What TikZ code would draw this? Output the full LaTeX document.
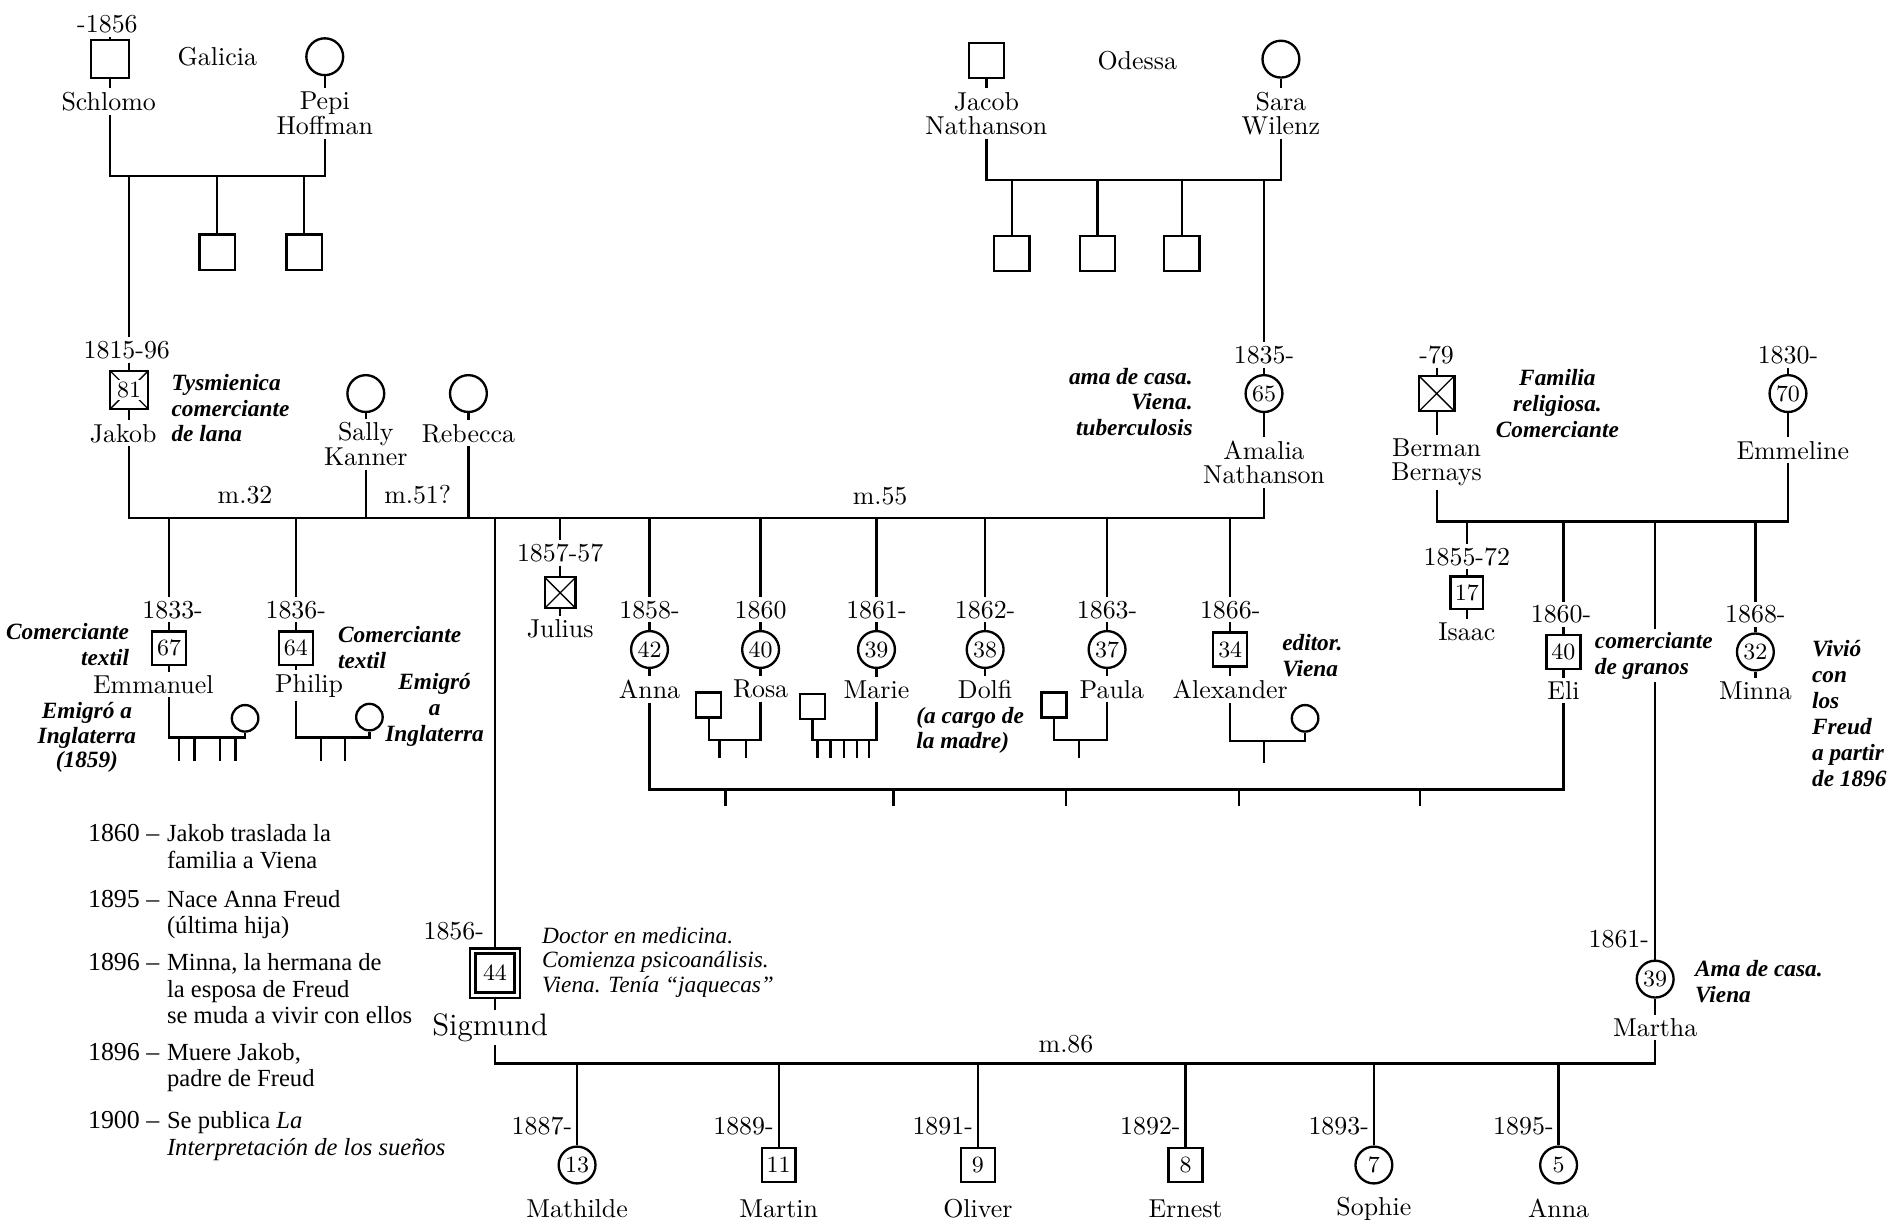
\documentclass[tikz,border=0pt]{standalone}
\usepackage{fontspec}
\usepackage{tikz}
\newfontfamily\notefont[Ligatures=TeX]{Liberation Serif}

\begin{document}
\begin{tikzpicture}[x=0.01639cm, y=-0.01639cm, line width=0.9pt,
  male/.style={draw, rectangle, minimum size=0.46cm, inner sep=0pt, font=\small},
  female/.style={draw, circle, minimum size=0.5cm, inner sep=0pt, font=\small},
  kid m/.style={draw, rectangle, minimum size=0.34cm, inner sep=0pt},
  kid f/.style={draw, circle, minimum size=0.36cm, inner sep=0pt},
  deceased/.style={path picture={\draw[line width=0.5pt]
      (path picture bounding box.north west) -- (path picture bounding box.south east)
      (path picture bounding box.south west) -- (path picture bounding box.north east);}},
  who/.style={align=center, inner sep=1pt, font=\fontsize{10}{9.5}\selectfont},
  year/.style={inner sep=1pt},
  note/.style={inner sep=1pt, font=\notefont\fontsize{9}{10}\selectfont\bfseries\itshape},
]
\useasboundingbox (0,0) rectangle (1568,1015);

% Draw the grandparents: Galicia
\node[year] (schlomoD) at (89,20) {-1856};
\node[male, minimum size=0.52cm] (schlomo) at (91,49) {};
\node[who] (schlomoN) at (90,84) {Schlomo};
\node (galicia) at (180,47) {Galicia};
\node[female] (pepi) at (269,47) {};
\node[who] (pepiN) at (269,94) {Pepi\\Hoffman};
\node[male, minimum size=0.48cm] (pepiS1) at (180,209) {};
\node[male, minimum size=0.48cm] (pepiS2) at (252,209) {};
\coordinate (galline) at (0,146);
\draw (schlomoD.south -| schlomo) -- (schlomo.north);
\draw (schlomo.south) -- (schlomo.south |- schlomoN.north);
\draw (pepi.south) -- (pepi.south |- pepiN.north);
\draw (schlomoN.south -| schlomo) -- (schlomo |- galline) -- (pepi |- galline) -- (pepi |- pepiN.south);
\draw (pepiS1 |- galline) -- (pepiS1.north);
\draw (pepiS2 |- galline) -- (pepiS2.north);

% Draw the grandparents: Odessa
\node[male, minimum size=0.48cm] (jacob) at (817,50) {};
\node[who] (jacobN) at (817,94) {Jacob\\Nathanson};
\node (odessa) at (942,50) {Odessa};
\node[female] (sara) at (1061,49) {};
\node[who] (saraN) at (1061,94) {Sara\\Wilenz};
\node[male, minimum size=0.48cm] (saraS1) at (838,210) {};
\node[male, minimum size=0.48cm] (saraS2) at (909,210) {};
\node[male, minimum size=0.48cm] (saraS3) at (979,210) {};
\coordinate (odline) at (0,149);
\draw (jacob.south) -- (jacob.south |- jacobN.north);
\draw (sara.south) -- (sara.south |- saraN.north);
\draw (jacobN.south) -- (jacob |- odline) -- (sara |- odline) -- (saraN.south);
\draw (saraS1 |- odline) -- (saraS1.north);
\draw (saraS2 |- odline) -- (saraS2.north);
\draw (saraS3 |- odline) -- (saraS3.north);

% Draw the parents
\node[year] (jakobD) at (105,290) {1815-96};
\node[male, deceased, minimum size=0.52cm,
  label={[fill=white, inner sep=0.6pt, font=\small]center:81}] (jakob) at (107,323) {};
\node[who] (jakobN) at (102,359) {Jakob};
\node[note, anchor=west, align=left] (jakobT) at (139,338) {Tysmienica\\comerciante\\de lana};
\node[female] (sally) at (303,326) {};
\node[who] (sallyN) at (303,368) {Sally\\Kanner};
\node[female] (rebecca) at (388,326) {};
\node[who] (rebeccaN) at (388,359) {Rebecca};
\node[year] (amaliaD) at (1047,294) {1835-};
\node[female] (amalia) at (1047,326) {65};
\node[who] (amaliaN) at (1047,383) {Amalia\\Nathanson};
\node[note, anchor=east, align=right] (amaliaT) at (991,333) {ama de casa.\\Viena.\\tuberculosis};
\coordinate (mline) at (0,429);
\draw (jakob |- galline) -- (jakob |- jakobD.north);
\draw (jakobD.south -| jakob) -- (jakob.north);
\draw (jakob.south) -- (jakob.south |- jakobN.north);
\draw (sally.south) -- (sally.south |- sallyN.north);
\draw (rebecca.south) -- (rebecca.south |- rebeccaN.north);
\draw (amalia |- odline) -- (amalia |- amaliaD.north);
\draw (amaliaD.south) -- (amalia.north);
\draw (amalia.south) -- (amalia.south |- amaliaN.north);
\draw (jakobN.south -| jakob) -- (jakob |- mline) -- (amalia |- mline) -- (amaliaN.south);
\draw (sallyN.south) -- (sally |- mline);
\draw (rebeccaN.south) -- (rebecca |- mline);
\node (m32) at (203,410) {m.32};
\node (m51) at (346,410) {m.51?};
\node (m55) at (729,411) {m.55};

% Bernays side
\node[year] (bermanD) at (1190,294) {-79};
\node[male, deceased, minimum size=0.48cm] (berman) at (1190,326) {};
\node[who] (bermanN) at (1190,383) {Berman\\Bernays};
\node[note, align=center] (bermanT) at (1290,334) {Familia\\religiosa.\\Comerciante};
\node[year] (emmelineD) at (1481,294) {1830-};
\node[female] (emmeline) at (1481,326) {70};
\node[who] (emmelineN) at (1485,373) {Emmeline};
\coordinate (bline) at (0,432);
\draw (bermanD.south) -- (berman.north);
\draw (berman.south) -- (berman.south |- bermanN.north);
\draw (emmelineD.south -| emmeline) -- (emmeline.north);
\draw (emmeline.south) -- (emmeline.south |- emmelineN.north);
\draw (bermanN.south) -- (berman |- bline) -- (emmeline |- bline) -- (emmeline |- emmelineN.south);

% Children of the first marriage
\node[year] (emmanuelD) at (143,505) {1833-};
\node[male] (emmanuel) at (140,537) {67};
\node[who] (emmanuelN) at (127,567) {Emmanuel};
\node[note, anchor=east, align=right] (emmanuelT) at (110,534) {Comerciante\\textil};
\node[note, align=center, font=\notefont\fontsize{9}{9.4}\selectfont\bfseries\itshape] (emmanuelE) at (72,611) {Emigró a\\Inglaterra\\(1859)};
\node[kid f] (emmanuelW) at (203,595) {};
\node[year] (philipD) at (245,505) {1836-};
\node[male] (philip) at (245,537) {64};
\node[who] (philipN) at (256,568) {Philip};
\node[note, anchor=west, align=left] (philipT) at (277,536) {Comerciante\\textil};
\node[note, align=center] (philipE) at (360,588) {Emigró\\a\\Inglaterra};
\node[kid f] (philipW) at (306,594) {};
\draw (emmanuel |- mline) -- (emmanuel |- emmanuelD.north);
\draw (emmanuelD.south -| emmanuel) -- (emmanuel.north);
\draw (emmanuel.south) -- (emmanuel.south |- emmanuelN.north);
\draw (philip |- mline) -- (philip |- philipD.north);
\draw (philipD.south -| philip) -- (philip.north);
\draw (philip.south) -- (philip.south |- philipN.north);
\coordinate (emfam) at (140,611);
\coordinate (phfam) at (245,611);
\draw (emmanuel |- emmanuelN.south) -- (emfam) -- (emfam -| emmanuelW) -- (emmanuelW.south);
\draw (philip |- philipN.south) -- (phfam) -- (phfam -| philipW) -- (philipW.south);
\draw (148,611) -- (148,630) (161,611) -- (161,630) (182,611) -- (182,630) (195,611) -- (195,630);
\draw (266,611) -- (266,630) (286,611) -- (286,630);

% Children of Jakob and Amalia
\node[year, anchor=east] (sigmundD) at (404,771) {1856-};
\node[male, double, double distance=1.1pt, line width=1.1pt, minimum size=0.6cm] (sigmund) at (410,806) {44};
\node[who, font=\large] (sigmundN) at (406,851) {Sigmund};
\node[inner sep=1pt, anchor=west, align=left, font=\notefont\fontsize{9}{9.4}\selectfont\itshape] (sigmundT) at (446,797)
  {Doctor en medicina.\\Comienza psicoanálisis.\\Viena. Tenía “jaquecas”};
\node[year] (juliusD) at (464,458) {1857-57};
\node[male, deceased, minimum size=0.42cm] (julius) at (464,491) {};
\node[who] (juliusN) at (464,521) {Julius};
\node[year] (annaD) at (538,505) {1858-};
\node[female] (anna) at (538,538) {42};
\node[who] (annaN) at (538,571) {Anna};
\node[year] (rosaD) at (630,505) {1860};
\node[female] (rosa) at (630,538) {40};
\node[who] (rosaN) at (630,571) {Rosa};
\node[kid m] (rosaH) at (587,584) {};
\node[year] (marieD) at (726,505) {1861-};
\node[female] (marie) at (726,538) {39};
\node[who] (marieN) at (726,571) {Marie};
\node[kid m] (marieH) at (673,585) {};
\node[year] (dolfiD) at (816,505) {1862-};
\node[female] (dolfi) at (816,538) {38};
\node[who] (dolfiN) at (816,571) {Dolfi};
\node[note, anchor=west, align=left] (dolfiT) at (756,605) {(a cargo de\\la madre)};
\node[year] (paulaD) at (917,505) {1863-};
\node[female] (paula) at (917,538) {37};
\node[who] (paulaN) at (921,571) {Paula};
\node[kid m] (paulaH) at (873,584) {};
\node[year] (alexanderD) at (1019,505) {1866-};
\node[male] (alexander) at (1019,538) {34};
\node[who] (alexanderN) at (1019,571) {Alexander};
\node[note, anchor=west, align=left] (alexanderT) at (1059,543) {editor.\\Viena};
\node[kid f] (alexanderW) at (1081,595) {};
\draw (sigmund |- mline) -- (sigmund.north);
\draw (sigmund.south) -- (sigmund.south |- sigmundN.north);
\draw (julius |- mline) -- (julius |- juliusD.north);
\draw (juliusD.south) -- (julius.north);
\draw (julius.south) -- (julius.south |- juliusN.north);
\draw (anna |- mline) -- (anna |- annaD.north);
\draw (annaD.south) -- (anna.north);
\draw (anna.south) -- (anna.south |- annaN.north);
\draw (rosa |- mline) -- (rosa |- rosaD.north);
\draw (rosaD.south) -- (rosa.north);
\draw (rosa.south) -- (rosa.south |- rosaN.north);
\draw (marie |- mline) -- (marie |- marieD.north);
\draw (marieD.south) -- (marie.north);
\draw (marie.south) -- (marie.south |- marieN.north);
\draw (dolfi |- mline) -- (dolfi |- dolfiD.north);
\draw (dolfiD.south) -- (dolfi.north);
\draw (dolfi.south) -- (dolfi.south |- dolfiN.north);
\draw (paula |- mline) -- (paula |- paulaD.north);
\draw (paulaD.south) -- (paula.north);
\draw (paula.south) -- (paula.south |- paulaN.north);
\draw (alexander |- mline) -- (alexander |- alexanderD.north);
\draw (alexanderD.south) -- (alexander.north);
\draw (alexander.south) -- (alexander.south |- alexanderN.north);
\coordinate (rofam) at (587,613);
\coordinate (mafam) at (673,613);
\coordinate (pafam) at (873,613);
\coordinate (alfam) at (1019,614);
\draw (rosaH.south) -- (rofam) -- (rofam -| rosa) -- (rosa |- rosaN.south);
\draw (marieH.south) -- (mafam) -- (mafam -| marie) -- (marie |- marieN.south);
\draw (paulaH.south) -- (pafam) -- (pafam -| paula) -- (paula |- paulaN.south);
\draw (alexander |- alexanderN.south) -- (alfam) -- (alfam -| alexanderW) -- (alexanderW.south);
\draw (596,613) -- (596,628) (618,613) -- (618,628);
\draw (677,613) -- (677,628) (688,613) -- (688,628) (699,613) -- (699,628) (710,613) -- (710,628) (720,613) -- (720,628);
\draw (894,613) -- (894,628);
\draw (1047,614) -- (1047,632);

% Children of Berman and Emmeline
\node[year] (isaacD) at (1215,461) {1855-72};
\node[male, minimum size=0.44cm] (isaac) at (1215,491) {17};
\node[who] (isaacN) at (1215,523) {Isaac};
\node[year] (eliD) at (1293,509) {1860-};
\node[male] (eli) at (1295,540) {40};
\node[who] (eliN) at (1295,572) {Eli};
\node[year] (minnaD) at (1454,509) {1868-};
\node[female] (minna) at (1454,540) {32};
\node[who] (minnaN) at (1454,572) {Minna};
\node[note, anchor=west, align=left, inner sep=0pt] (minnaT) at (1500,591) {Vivió\\con\\los\\Freud\\a partir\\de 1896};
\node[year, anchor=east] (marthaD) at (1369,778) {1861-};
\node[female] (martha) at (1371,811) {39};
\node[who] (marthaN) at (1371,851) {Martha};
\node[note, anchor=west, align=left] (marthaT) at (1401,813) {Ama de casa.\\Viena};
\draw (isaac |- bline) -- (isaac |- isaacD.north);
\draw (isaacD.south) -- (isaac.north);
\draw (isaac.south) -- (isaac.south |- isaacN.north);
\draw (eli |- bline) -- (eli |- eliD.north);
\draw (eliD.south -| eli) -- (eli.north);
\draw (eli.south) -- (eli.south |- eliN.north);
\draw (minna |- bline) -- (minna |- minnaD.north);
\draw (minnaD.south) -- (minna.north);
\draw (minna.south) -- (minna.south |- minnaN.north);
\draw (martha |- bline) -- (martha.north);
\draw (martha.south) -- (martha.south |- marthaN.north);
\node[note, anchor=west, align=left, fill=white] (eliT) at (1318,543) {comerciante\\de granos};

% Anna and Eli
\coordinate (aeline) at (0,654);
\draw (anna |- annaN.south) -- (anna |- aeline) -- (eli |- aeline) -- (eli |- eliN.south);
\draw (601,654) -- (601,668) (740,654) -- (740,668) (883,654) -- (883,668) (1026,654) -- (1026,668) (1176,654) -- (1176,668);

% Sigmund and Martha
\coordinate (sline) at (0,881);
\draw (sigmund |- sigmundN.south) -- (sigmund |- sline) -- (martha |- sline) -- (martha |- marthaN.south);
\node (m86) at (883,865) {m.86};
\node[female] (mathilde) at (478,965) {13};
\node[male] (martin) at (645,965) {11};
\node[male] (oliver) at (810,965) {9};
\node[male] (ernest) at (982,965) {8};
\node[female] (sophie) at (1138,965) {7};
\node[female] (annaF) at (1291,965) {5};
\node[year, anchor=east] (mathildeD) at (477,933) {1887-};
\node[year, anchor=east] (martinD) at (644,933) {1889-};
\node[year, anchor=east] (oliverD) at (809,933) {1891-};
\node[year, anchor=east] (ernestD) at (981,933) {1892-};
\node[year, anchor=east] (sophieD) at (1137,933) {1893-};
\node[year, anchor=east] (annaFD) at (1290,933) {1895-};
\node[who] (mathildeN) at (478,1001) {Mathilde};
\node[who] (martinN) at (645,1001) {Martin};
\node[who] (oliverN) at (810,1001) {Oliver};
\node[who] (ernestN) at (982,1001) {Ernest};
\node[who] (sophieN) at (1138,1001) {Sophie};
\node[who] (annaFN) at (1291,1001) {Anna};
\draw (mathilde |- sline) -- (mathilde.north);
\draw (martin |- sline) -- (martin.north);
\draw (oliver |- sline) -- (oliver.north);
\draw (ernest |- sline) -- (ernest.north);
\draw (sophie |- sline) -- (sophie.north);
\draw (annaF |- sline) -- (annaF.north);

% Dates on the left
\node[anchor=north west, inner sep=0pt, font=\notefont\fontsize{9.5}{10.2}\selectfont] (timeline) at (72,681) {%
  \begin{tabular}{@{}r@{\hspace{3pt}}l@{}}
  {\fontsize{10}{10.2}\selectfont 1860 --} & Jakob traslada la\\
   & familia a Viena\\[5pt]
  {\fontsize{10}{10.2}\selectfont 1895 --} & Nace Anna Freud\\
   & (última hija)\\[4pt]
  {\fontsize{10}{10.2}\selectfont 1896 --} & Minna, la hermana de\\
   & la esposa de Freud\\
   & se muda a vivir con ellos\\[4pt]
  {\fontsize{10}{10.2}\selectfont 1896 --} & Muere Jakob,\\
   & padre de Freud\\[6pt]
  {\fontsize{10}{10.2}\selectfont 1900 --} & Se publica \textit{La}\\
   & \textit{Interpretación de los sueños}
  \end{tabular}};
\end{tikzpicture}
\end{document}
